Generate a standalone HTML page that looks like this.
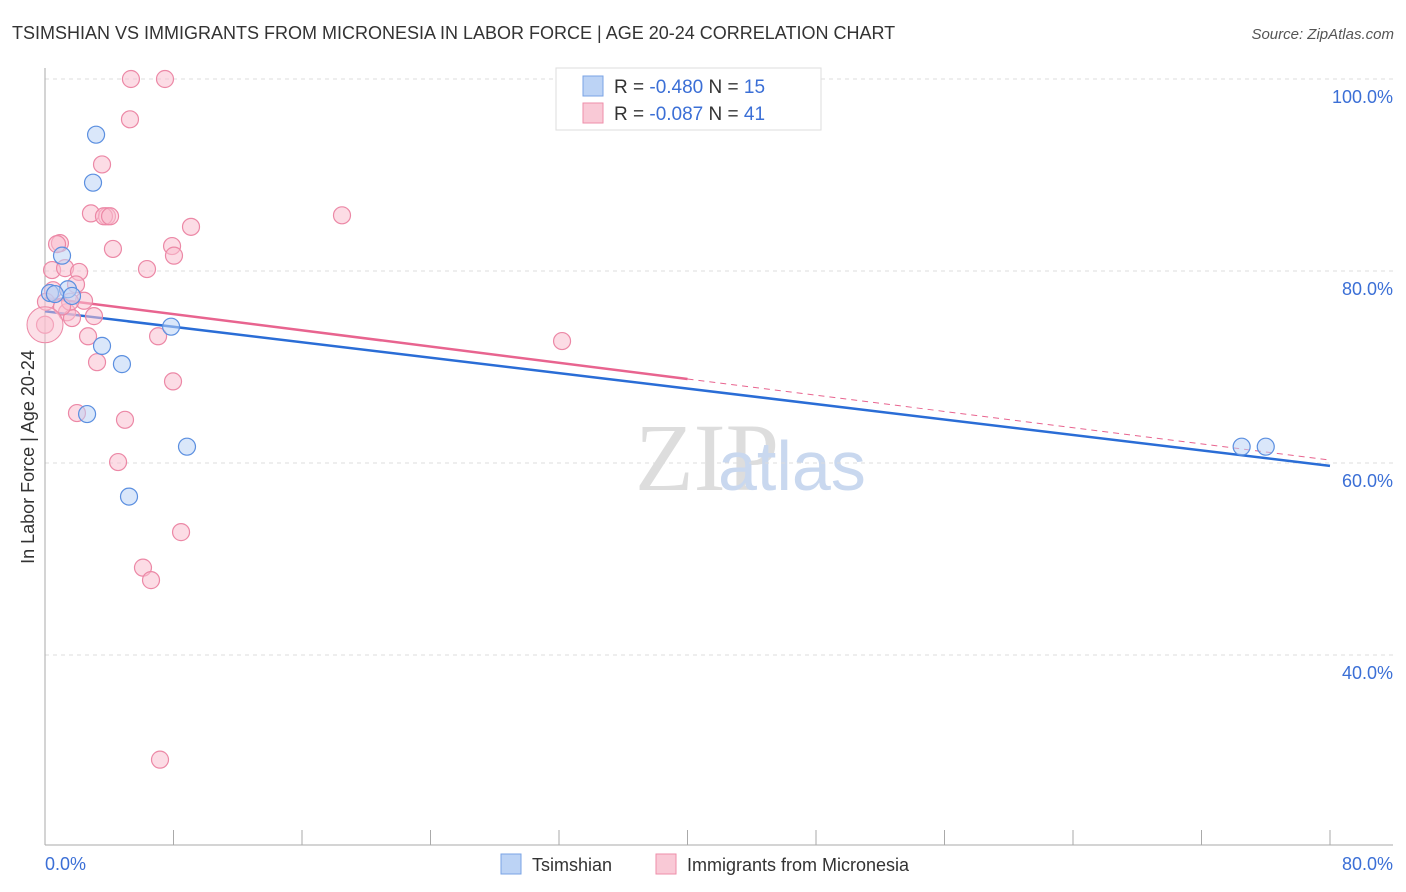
<!DOCTYPE html>
<html><head><meta charset="utf-8"><style>
body{margin:0;background:#fff;font-family:"Liberation Sans",sans-serif;}
svg{display:block}
</style></head><body>
<svg width="1406" height="892" viewBox="0 0 1406 892" id="chart">
<text x="12" y="39" font-size="18" fill="#333">TSIMSHIAN VS IMMIGRANTS FROM MICRONESIA IN LABOR FORCE | AGE 20-24 CORRELATION CHART</text>
<text x="1394" y="39" font-size="15" fill="#555" font-style="italic" text-anchor="end">Source: ZipAtlas.com</text>
<text x="635" y="490" font-size="96" fill="#ddd" font-family="Liberation Serif,serif">ZIP</text>
<text x="718" y="490" font-size="70" fill="#c9d8ef">atlas</text>
<g id="grid"></g><g id="axes"></g><g id="lines"></g><g id="pts"></g>
<text transform="translate(34,457) rotate(-90)" font-size="18" fill="#333" text-anchor="middle">In Labor Force | Age 20-24</text>
<text x="45" y="870" font-size="18" fill="#3b6fd6">0.0%</text>
<text x="1393" y="870" font-size="18" fill="#3b6fd6" text-anchor="end">80.0%</text>
<g>
<rect x="556" y="68" width="265" height="62" fill="#fff" stroke="#ddd"/>
<rect x="583" y="76" width="20" height="20" fill="#bcd3f5" stroke="#7aa3e5"/>
<rect x="583" y="103" width="20" height="20" fill="#f9c9d6" stroke="#ee8ea9"/>
<text x="614" y="93" font-size="19" fill="#333">R = <tspan fill="#3b6fd6">-0.480</tspan>   N = <tspan fill="#3b6fd6">15</tspan></text>
<text x="614" y="120" font-size="19" fill="#333">R = <tspan fill="#3b6fd6">-0.087</tspan>   N = <tspan fill="#3b6fd6">41</tspan></text>
</g>
<g>
<rect x="501" y="854" width="20" height="20" fill="#bcd3f5" stroke="#7aa3e5"/>
<text x="532" y="871" font-size="18" fill="#333">Tsimshian</text>
<rect x="656" y="854" width="20" height="20" fill="#f9c9d6" stroke="#ee8ea9"/>
<text x="687" y="871" font-size="18" fill="#333">Immigrants from Micronesia</text>
</g>
</svg>
<script>
const yTicks=[100,80,60,40];
const yTickLabels=["100.0%","80.0%","60.0%","40.0%"];
const xTicks=[8,16,24,32,40,48,56,64,72,80];
const blueX=[3.18,2.99,1.06,0.31,1.43,1.68,7.85,3.55,4.79,2.62,8.84,5.23,74.5,76.0,0.62];
const blueY=[94.2,89.2,81.6,77.7,78.1,77.4,74.2,72.2,70.3,65.1,61.7,56.5,61.7,61.7,77.6];
const pinkX=[5.35,7.47,5.29,3.55,2.86,3.86,3.67,4.05,18.49,9.09,0.93,0.75,4.23,7.91,8.03,6.35,0.44,1.25,2.12,1.93,2.43,0.50,1.37,1.68,3.05,7.04,2.68,3.24,7.97,1.99,4.98,4.55,8.47,6.10,6.60,7.16,32.19,0,0.06,1.56,1.06];
const pinkY=[100,100,95.8,91.1,86.0,85.7,85.7,85.7,85.8,84.6,82.9,82.8,82.3,82.6,81.6,80.2,80.1,80.3,79.9,78.6,76.9,78.0,75.7,75.1,75.3,73.2,73.2,70.5,68.5,65.2,64.5,60.1,52.8,49.1,47.8,29.1,72.7,74.4,76.8,76.8,76.3];
const blueTrend=[75.8,59.7];
const pinkTrend=[77.2,60.3];
const NS="http://www.w3.org/2000/svg";
const X=v=>45+v*(1285/80), Y=v=>79+(100-v)*9.6;
function mk(tag,at,parent){const e=document.createElementNS(NS,tag);for(const k in at)e.setAttribute(k,at[k]);document.getElementById(parent).appendChild(e);return e;}
yTicks.forEach((t,i)=>{
 const l=mk('line',{x1:45,x2:1393,y1:Y(t),y2:Y(t),stroke:'#ddd','stroke-dasharray':'4,4'},'grid');
 
 
 const tx=mk('text',{x:1393,y:Y(t)+24,'font-size':18,fill:'#3b6fd6','text-anchor':'end'},'grid');
 tx.textContent=yTickLabels[i];
 
 
});
let a=mk('line',{x1:45,x2:45,y1:68,y2:845,stroke:'#aaa'},'axes');


a=mk('line',{x1:45,x2:1393,y1:845,y2:845,stroke:'#aaa'},'axes');


xTicks.forEach(t=>{const l=mk('line',{x1:X(t),x2:X(t),y1:830,y2:845,stroke:'#aaa'},'axes');
 
 });
function pts(xs,ys,fill,stroke,name){xs.forEach((x,i)=>{const c=mk('circle',{cx:X(x),cy:Y(ys[i]),r:8.5,fill:fill,'fill-opacity':0.55,stroke:stroke,'stroke-width':1.2},'pts');
 
 });}
pts(pinkX,pinkY,'#f9c0d0','#ec88a6','micronesia-point');
pts(blueX,blueY,'#bcd3f5','#5b8fe0','tsimshian-point');
const big=mk('circle',{cx:X(0),cy:Y(74.4),r:18,fill:'#f9c0d0','fill-opacity':0.5,stroke:'#ec88a6'},'pts');


const ps=(pinkTrend[1]-pinkTrend[0])/80;
let l=mk('line',{x1:X(0),y1:Y(pinkTrend[0]),x2:X(40),y2:Y(pinkTrend[0]+ps*40),stroke:'#e8648f','stroke-width':2.5},'lines');


l=mk('line',{x1:X(40),y1:Y(pinkTrend[0]+ps*40),x2:X(80),y2:Y(pinkTrend[1]),stroke:'#e8648f','stroke-width':1,'stroke-dasharray':'6,5'},'lines');


l=mk('line',{x1:X(0),y1:Y(blueTrend[0]),x2:X(80),y2:Y(blueTrend[1]),stroke:'#2a6dd6','stroke-width':2.5},'lines');


</script>
</body></html>
